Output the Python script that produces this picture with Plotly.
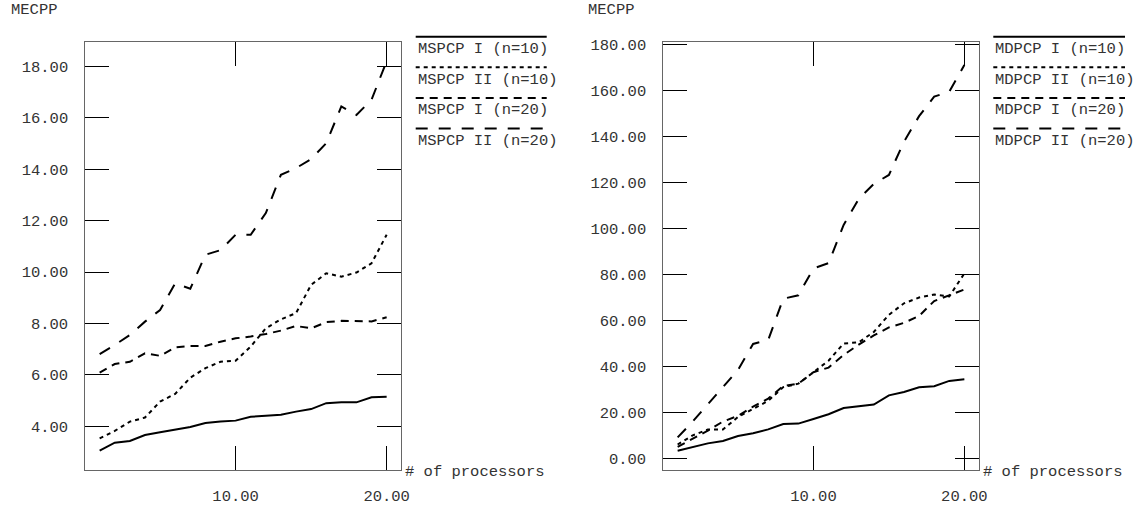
import plotly.graph_objects as go

W, H = 1143, 508

# ---------------- data ----------------
processors = list(range(1, 21))

mspcp1_n10 = [3.05, 3.36, 3.43, 3.66, 3.77, 3.88, 3.97, 4.13, 4.19, 4.22,
              4.37, 4.41, 4.45, 4.57, 4.67, 4.90, 4.93, 4.93, 5.13, 5.15]
mspcp2_n10 = [3.53, 3.82, 4.18, 4.34, 4.96, 5.26, 5.89, 6.26, 6.51, 6.55,
              7.10, 7.81, 8.16, 8.40, 9.50, 9.95, 9.82, 9.98, 10.34, 11.45]
mspcp1_n20 = [6.09, 6.42, 6.51, 6.84, 6.74, 7.07, 7.12, 7.12, 7.29, 7.42,
              7.49, 7.59, 7.72, 7.90, 7.81, 8.05, 8.10, 8.08, 8.08, 8.24]
mspcp2_n20 = [6.81, 7.16, 7.55, 8.07, 8.52, 9.56, 9.35, 10.67, 10.85, 11.45,
              11.45, 12.29, 13.78, 14.04, 14.39, 15.01, 16.44, 16.11, 16.70, 18.20]

mdpcp1_n10 = [3.3, 4.8, 6.5, 7.5, 9.7, 10.9, 12.6, 14.9, 15.1, 17.1,
              19.2, 21.9, 22.5, 23.4, 27.4, 28.9, 30.9, 31.4, 33.7, 34.4]
mdpcp2_n10 = [6.0, 10.0, 12.5, 12.5, 18.0, 21.5, 25.0, 31.0, 32.5, 37.5,
              42.5, 50.0, 50.5, 55.0, 62.5, 67.5, 70.0, 71.3, 70.5, 80.5]
mdpcp1_n20 = [5.0, 8.5, 12.0, 16.0, 18.5, 22.5, 26.0, 31.5, 32.5, 37.5,
              39.5, 45.0, 49.5, 53.5, 57.0, 59.0, 62.0, 68.5, 71.0, 73.5]
mdpcp2_n20 = [9.1, 16.0, 23.5, 31.0, 38.5, 49.8, 51.5, 69.5, 71.0, 82.7,
              85.0, 101.6, 113.0, 119.5, 123.4, 137.9, 149.0, 157.5, 159.7, 171.3]

left_names = ["MSPCP I (n=10)", "MSPCP II (n=10)", "MSPCP I (n=20)", "MSPCP II (n=20)"]
right_names = ["MDPCP I (n=10)", "MDPCP II (n=10)", "MDPCP I (n=20)", "MDPCP II (n=20)"]
left_series = [mspcp1_n10, mspcp2_n10, mspcp1_n20, mspcp2_n20]
right_series = [mdpcp1_n10, mdpcp2_n10, mdpcp1_n20, mdpcp2_n20]

left_yticks = [4, 6, 8, 10, 12, 14, 16, 18]
right_yticks = [0, 20, 40, 60, 80, 100, 120, 140, 160, 180]
x_ticks = [10, 20]

y_title = "MECPP"
x_title = "# of processors"

# ---------------- style ----------------
dashes = ["solid", "4px,4px", "8px,6px", "12px,11px"]
FONT = ("Courier New, Courier, Nimbus Mono PS, Nimbus Mono L, FreeMono, "
        "Liberation Mono, monospace")
FS = 15.5
TXT = "#333333"


def px(x):
    return x / W


def py(y):
    return 1 - y / H


fig = go.Figure()

for names, series, xa, ya in [(left_names, left_series, "x", "y"),
                              (right_names, right_series, "x2", "y2")]:
    for name, vals, d in zip(names, series, dashes):
        fig.add_trace(go.Scatter(x=processors, y=vals, mode="lines", name=name,
                                 xaxis=xa, yaxis=ya, showlegend=False,
                                 line=dict(color="black", width=2, dash=d)))

common_x = dict(range=[0.05, 20.95], tickvals=x_ticks, tickformat=".2f",
                ticks="inside", ticklen=24, tickcolor="black", tickwidth=1,
                showline=True, linecolor="#666666", linewidth=1, mirror="ticks",
                showgrid=False, zeroline=False, automargin=False,
                ticklabelstandoff=11,
                tickfont=dict(family=FONT, size=FS, color=TXT))
common_y = dict(tickformat=".2f", ticks="inside", ticklen=24, tickcolor="black",
                tickwidth=1, showline=True, linecolor="#666666", linewidth=1,
                mirror="ticks", showgrid=False, zeroline=False, automargin=False,
                ticklabelstandoff=13,
                tickfont=dict(family=FONT, size=FS, color=TXT))

ydom = [py(470), py(42)]
fig.update_layout(
    template="none",
    width=W, height=H,
    margin=dict(l=0, r=0, t=0, b=0),
    paper_bgcolor="white", plot_bgcolor="white",
    showlegend=False,
    xaxis=dict(domain=[px(85.3), px(401)], anchor="y", **common_x),
    yaxis=dict(domain=ydom, anchor="x", range=[2.30, 18.945],
               tickvals=left_yticks, **common_y),
    xaxis2=dict(domain=[px(663.3), px(978.7)], anchor="y2", **common_x),
    yaxis2=dict(domain=ydom, anchor="x2", range=[-5.1, 181.3],
                tickvals=right_yticks, **common_y),
)

annotations = []
shapes = []
for names, lx0, lx1, ytx, xt in [(left_names, 415.7, 546.7, 9, 403),
                                 (right_names, 993.3, 1125, 586, 981)]:
    # axis titles
    annotations.append(dict(x=px(ytx), y=py(10), xref="paper", yref="paper",
                            text=y_title, showarrow=False, xanchor="left",
                            yanchor="middle",
                            font=dict(family=FONT, size=FS, color=TXT)))
    annotations.append(dict(x=px(xt), y=py(471.5), xref="paper", yref="paper",
                            text=x_title, showarrow=False, xanchor="left",
                            yanchor="middle",
                            font=dict(family=FONT, size=FS, color=TXT)))
    # legend
    for i, (name, d) in enumerate(zip(names, dashes)):
        yl = 36.7 + 30.6 * i
        shapes.append(dict(type="line", xref="paper", yref="paper",
                           x0=px(lx0), x1=px(lx1), y0=py(yl), y1=py(yl),
                           line=dict(color="black", width=2, dash=d)))
        annotations.append(dict(x=px(lx0), y=py(yl + 12.5), xref="paper",
                                yref="paper", text=name, showarrow=False,
                                xanchor="left", yanchor="middle",
                                font=dict(family=FONT, size=FS, color=TXT)))

fig.update_layout(annotations=annotations, shapes=shapes)
fig.write_html("out.html")
